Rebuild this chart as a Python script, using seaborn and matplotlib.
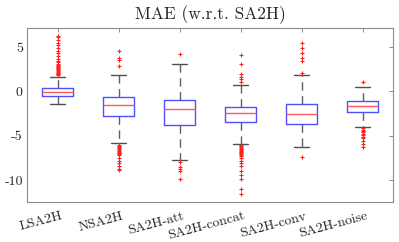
import seaborn as sns
import matplotlib.pyplot as plt
import matplotlib.transforms as mtransforms
import pandas as pd
import numpy as np

# ── data (five-number summaries + outliers) ──
models   = ['LSA2H', 'NSA2H', 'SA2H-att', 'SA2H-concat', 'SA2H-conv', 'SA2H-noise']
q1       = [-0.50, -2.79, -3.75, -3.43, -3.70, -2.27]
median   = [-0.05, -1.55, -2.00, -2.45, -2.57, -1.63]
q3       = [ 0.44, -0.61, -0.95, -1.70, -1.45, -1.10]
whis_lo  = [-1.40, -5.81, -7.75, -5.88, -6.30, -3.96]
whis_hi  = [ 1.68,  1.84,  3.15,  0.75,  1.84,  0.56]

outliers = {
    'LSA2H':       [6.3, 6.1, 5.8, 5.5, 5.2, 4.9, 4.6, 4.3, 4.0, 3.7, 3.4, 3.3, 3.1,
                    3.0, 2.9, 2.8, 2.7, 2.6, 2.5, 2.4, 2.3, 2.2, 2.1, 2.0, 1.95, 1.9],
    'NSA2H':       [4.62, 3.76, 3.6, 2.86,
                    -6.1, -6.2, -6.3, -6.4, -6.5, -6.6, -6.7, -6.8, -6.9, -7.0, -7.1,
                    -7.2, -7.5, -7.8, -8.1, -8.4, -8.7, -8.9],
    'SA2H-att':    [4.28, -8.0, -8.48, -8.75, -8.97, -9.84],
    'SA2H-concat': [4.14, 3.12, 1.95, 1.68, 1.42, 1.05,
                    -6.1, -6.2, -6.3, -6.4, -6.5, -6.6, -6.7, -6.8, -6.9, -7.0, -7.1,
                    -7.2, -7.3, -7.5, -7.8, -8.1, -8.4, -8.97, -9.42, -9.9, -11.04, -11.54],
    'SA2H-conv':   [5.46, 4.96, 4.33, 3.83, 3.49, 2.14, -7.35],
    'SA2H-noise':  [1.12, -4.15, -4.3, -4.45, -4.6, -4.75, -4.9, -5.1, -5.3, -5.6, -5.9, -6.22],
}
yticks      = [-10, -5, 0, 5]
ytick_texts = ['-10', '-5', '0', '5']

# expand each summary into sample values so the boxplot reproduces it
BLOCK = 60
rows = []
for i, m in enumerate(models):
    vals = (outliers[m] + [whis_lo[i], whis_hi[i]]
            + [q1[i]] * BLOCK + [median[i]] * BLOCK + [q3[i]] * BLOCK)
    rows += [(m, v) for v in vals]
df = pd.DataFrame(rows, columns=['model', 'mae'])

# ── style ────────────────────────────────────────────────────
sns.set_theme(style='white')
plt.rcParams['font.family'] = ['cmr10', 'DejaVu Sans']
plt.rcParams['mathtext.fontset'] = 'cm'

fig = plt.figure(figsize=(3.99, 2.42), dpi=100)
ax = fig.add_axes([0.0677, 0.1665, 0.9173, 0.719])

sns.boxplot(df, x='model', y='mae', order=models, width=0.5, fill=False,
            linewidth=1.0, ax=ax,
            boxprops={'color': '#5050ff'},
            medianprops={'color': '#ff5a5a'},
            whiskerprops={'color': '#606060', 'linestyle': (0, (6, 4))},
            capprops={'color': '#505050'},
            flierprops={'marker': '+', 'markeredgecolor': '#ff2020',
                        'markersize': 3.5, 'markeredgewidth': 0.8})

ax.set_xlim(-0.5, 5.5)
ax.set_ylim(-12.45, 7.2)
ax.set_yticks(yticks)
ax.set_yticklabels(ytick_texts)
ax.set_xlabel('')
ax.set_ylabel('')
ax.set_title('MAE (w.r.t. SA2H)', fontsize=12.5, pad=6)

for s in ax.spines.values():
    s.set_color('#8c8c8c')
    s.set_linewidth(0.8)
ax.tick_params(axis='both', direction='in', length=3, width=0.7, color='#8c8c8c',
               labelsize=10, top=True, right=True, pad=3)
ax.tick_params(axis='x', pad=6)
shift = mtransforms.ScaledTranslation(3 / 100, 0, fig.dpi_scale_trans)
for lab in ax.get_xticklabels():
    lab.set_rotation(15)
    lab.set_ha('right')
    lab.set_rotation_mode('anchor')
    lab.set_transform(lab.get_transform() + shift)

plt.savefig('out.png', dpi=100)
